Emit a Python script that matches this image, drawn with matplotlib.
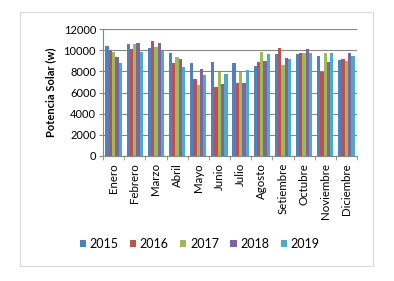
import numpy as np
import matplotlib.pyplot as plt
from matplotlib.patches import Rectangle

plt.rcParams['font.family'] = ['Lato', 'DejaVu Sans']

months = ["Enero", "Febrero", "Marzo", "Abril", "Mayo", "Junio", "Julio",
          "Agosto", "Setiembre", "Octubre", "Noviembre", "Diciembre"]
years = ["2015", "2016", "2017", "2018", "2019"]

v2015 = [10400, 10550, 10200, 9770, 8760, 8920, 8820, 8480, 9610, 9610, 9480, 9070]
v2016 = [10000, 10100, 10900, 8820, 7280, 6550, 6930, 8920, 10200, 9700, 7970, 9170]
v2017 = [9830, 10550, 10330, 9330, 6680, 7940, 7910, 9860, 8570, 9700, 9770, 8980]
v2018 = [9330, 10700, 10650, 9130, 8190, 6840, 6930, 8980, 9230, 10080, 8920, 9770]
v2019 = [8820, 9860, 9950, 8380, 7620, 7780, 8130, 9610, 9130, 9770, 9770, 9420]
series = [v2015, v2016, v2017, v2018, v2019]
colors = ["#4F81BD", "#C0504D", "#9BBB59", "#8064A2", "#4BACC6"]

fig = plt.figure(figsize=(3.94, 2.81), dpi=100)
fig.patches.append(Rectangle((20 / 394, 1 - 266 / 281), 353 / 394, 254 / 281,
                             transform=fig.transFigure, fill=False,
                             edgecolor="#D9D9D9", linewidth=0.8))
ax = fig.add_axes([103 / 394, 1 - 156 / 281, 254 / 394, 127 / 281])

x = np.arange(len(months))
w = 0.155
for i, (vals, c, yr) in enumerate(zip(series, colors, years)):
    ax.bar(x + (i - 2) * w, vals, width=w, color=c, label=yr, zorder=3)

ax.set_xlim(-0.5, len(months) - 0.5)
ax.set_ylim(0, 12000)
ax.set_yticks(range(0, 12001, 2000))
ax.tick_params(axis="y", labelsize=8, length=3, color="#868686", pad=2)
ax.yaxis.grid(True, color="#868686", linewidth=0.8, zorder=0)

ax.set_xticks(x)
ax.set_xticklabels(months, rotation=90, fontsize=8.3)
ax.set_xticks(np.arange(-0.5, len(months)), minor=True)
ax.tick_params(axis="x", which="major", length=0, pad=5)
ax.tick_params(axis="x", which="minor", length=3, color="#868686")

for s in ["top", "right"]:
    ax.spines[s].set_visible(False)
for s in ["left", "bottom"]:
    ax.spines[s].set_color("#868686")

ax.set_ylabel("Potencia Solar (w)", fontsize=8, fontweight="bold", labelpad=5)

leg = ax.legend(loc="center", bbox_to_anchor=(199.5 / 394, 1 - 244 / 281),
                bbox_transform=fig.transFigure, ncol=5, frameon=False, fontsize=9,
                handlelength=0.5, handleheight=0.5, handletextpad=0.3, columnspacing=0.9)

fig.savefig("out.png", dpi=100)
